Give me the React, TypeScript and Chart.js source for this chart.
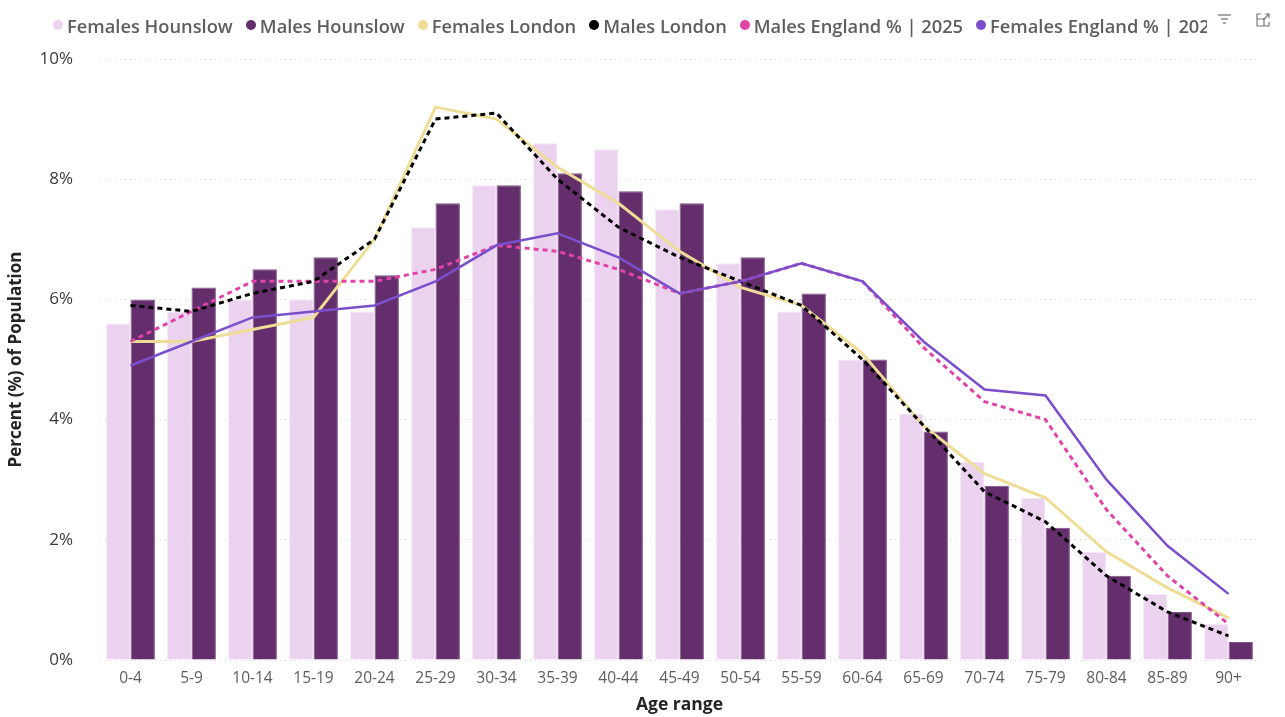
import React, { useEffect, useRef } from "react";
import { Chart, registerables } from "chart.js";

Chart.register(...registerables);

const ageRanges = ["0-4", "5-9", "10-14", "15-19", "20-24", "25-29", "30-34", "35-39", "40-44", "45-49", "50-54", "55-59", "60-64", "65-69", "70-74", "75-79", "80-84", "85-89", "90+"];
const femalesHounslow = [5.6, 5.8, 6.0, 6.0, 5.8, 7.2, 7.9, 8.6, 8.5, 7.5, 6.6, 5.8, 5.0, 4.1, 3.3, 2.7, 1.8, 1.1, 0.6];
const malesHounslow = [6.0, 6.2, 6.5, 6.7, 6.4, 7.6, 7.9, 8.1, 7.8, 7.6, 6.7, 6.1, 5.0, 3.8, 2.9, 2.2, 1.4, 0.8, 0.3];
const femalesLondon = [5.3, 5.3, 5.5, 5.7, 7.0, 9.2, 9.0, 8.2, 7.6, 6.8, 6.2, 5.9, 5.1, 3.9, 3.1, 2.7, 1.8, 1.2, 0.7];
const malesLondon = [5.9, 5.8, 6.1, 6.3, 7.0, 9.0, 9.1, 8.0, 7.2, 6.7, 6.3, 5.9, 5.0, 3.9, 2.8, 2.3, 1.4, 0.8, 0.4];
const malesEngland = [5.3, 5.8, 6.3, 6.3, 6.3, 6.5, 6.9, 6.8, 6.5, 6.1, 6.3, 6.6, 6.3, 5.2, 4.3, 4.0, 2.5, 1.4, 0.6];
const femalesEngland = [4.9, 5.3, 5.7, 5.8, 5.9, 6.3, 6.9, 7.1, 6.7, 6.1, 6.3, 6.6, 6.3, 5.3, 4.5, 4.4, 3.0, 1.9, 1.1];
const yTicks = [0, 2, 4, 6, 8, 10];

const seriesLabels = ["Females Hounslow", "Males Hounslow", "Females London", "Males London", "Males England % | 2025", "Females England % | 2025"];
const seriesColors = ["#EBD2EF", "#642D6B", "#EEDD96", "#000000", "#E044A7", "#7B4FCB"];

const FONT = "'Open Sans', 'Noto Sans', sans-serif";

export default function App() {
  const canvasRef = useRef<HTMLCanvasElement | null>(null);

  useEffect(() => {
    const prevMargin = document.body.style.margin;
    document.body.style.margin = "0";
    const canvas = canvasRef.current;
    if (!canvas) return;
    const chart = new Chart(canvas, {
      type: "bar",
      data: {
        labels: ageRanges,
        datasets: [
          {
            type: "bar",
            label: seriesLabels[0],
            data: femalesHounslow,
            backgroundColor: seriesColors[0],
            borderColor: "#F4E6F6",
            borderWidth: 1,
            categoryPercentage: 0.8,
            barPercentage: 1.0,
            order: 10,
          },
          {
            type: "bar",
            label: seriesLabels[1],
            data: malesHounslow,
            backgroundColor: seriesColors[1],
            borderColor: "#7E5285",
            borderWidth: 1,
            categoryPercentage: 0.8,
            barPercentage: 1.0,
            order: 10,
          },
          {
            type: "line",
            label: seriesLabels[2],
            data: femalesLondon,
            borderColor: seriesColors[2],
            backgroundColor: seriesColors[2],
            borderWidth: 3,
            pointRadius: 0,
            tension: 0,
            order: 4,
          },
          {
            type: "line",
            label: seriesLabels[3],
            data: malesLondon,
            borderColor: seriesColors[3],
            backgroundColor: seriesColors[3],
            borderWidth: 3,
            borderDash: [5, 4],
            pointRadius: 0,
            tension: 0,
            order: 2,
          },
          {
            type: "line",
            label: seriesLabels[4],
            data: malesEngland,
            borderColor: seriesColors[4],
            backgroundColor: seriesColors[4],
            borderWidth: 3,
            borderDash: [5, 4],
            pointRadius: 0,
            tension: 0,
            order: 3,
          },
          {
            type: "line",
            label: seriesLabels[5],
            data: femalesEngland,
            borderColor: seriesColors[5],
            backgroundColor: seriesColors[5],
            borderWidth: 2.5,
            pointRadius: 0,
            tension: 0,
            order: 1,
          },
        ],
      },
      options: {
        animation: false,
        responsive: false,
        maintainAspectRatio: false,
        layout: { padding: { left: 0, right: 26, top: 59, bottom: 0 } },
        plugins: {
          legend: { display: false },
          tooltip: { enabled: false },
        },
        scales: {
          x: {
            grid: { display: false, drawTicks: false },
            border: { display: false },
            ticks: {
              color: "#605E5C",
              font: { family: FONT, size: 15.5 },
              padding: 9,
              maxRotation: 0,
              autoSkip: false,
            },
            title: {
              display: true,
              text: "Age range",
              color: "#252423",
              font: { family: FONT, size: 17.5, weight: "bold" },
              padding: { top: 0, bottom: 1 },
            },
            afterFit: (scale: any) => {
              scale.height = 57;
            },
          },
          y: {
            min: 0,
            max: 10,
            afterBuildTicks: (scale: any) => {
              scale.ticks = yTicks.map((v) => ({ value: v }));
            },
            grid: {
              color: "#D6D6D6",
              lineWidth: 1,
              drawTicks: false,
            },
            border: { display: false, dash: [1, 4] },
            ticks: {
              color: "#3B3A39",
              font: { family: FONT, size: 17 },
              padding: 27,
              callback: (v: any) => `${v}%`,
            },
            title: {
              display: true,
              text: "Percent (%) of Population",
              color: "#252423",
              font: { family: FONT, size: 17, weight: "bold" },
              padding: { top: 6, bottom: 0 },
            },
            afterFit: (scale: any) => {
              scale.width = 100;
            },
          },
        },
      },
    });
    return () => {
      chart.destroy();
      document.body.style.margin = prevMargin;
    };
  }, []);

  return (
    <div style={{ position: "fixed", left: 0, top: 0, width: 1285, height: 717, background: "#fff" }}>
      <canvas ref={canvasRef} width={1285} height={717} style={{ position: "absolute", left: 0, top: 0 }} />
      <div
        style={{
          position: "absolute",
          left: 53,
          top: 10,
          width: 1154,
          height: 30,
          overflow: "hidden",
          whiteSpace: "nowrap",
          display: "flex",
          alignItems: "center",
          fontFamily: FONT,
          fontWeight: 600,
          fontSize: 18.3,
          color: "#605E5C",
        }}
      >
        {seriesLabels.map((label, i) => (
          <span key={label} style={{ display: "inline-flex", alignItems: "center", marginRight: 13, flexShrink: 0 }}>
            <span
              style={{
                display: "inline-block",
                width: 10,
                height: 10,
                borderRadius: 5,
                background: seriesColors[i],
                marginRight: 4,
              }}
            />
            {label}
          </span>
        ))}
      </div>
      <svg width={20} height={20} viewBox="0 0 20 20" style={{ position: "absolute", left: 1215, top: 10 }}>
        <line x1={3} y1={5} x2={16} y2={5} stroke="#777" strokeWidth={1.3} />
        <line x1={6} y1={9} x2={13} y2={9} stroke="#777" strokeWidth={1.3} />
        <line x1={8} y1={13} x2={11} y2={13} stroke="#777" strokeWidth={1.3} />
      </svg>
      <svg width={20} height={20} viewBox="0 0 20 20" style={{ position: "absolute", left: 1253, top: 10 }}>
        <path d="M8 4 H4 V16 H16 V12" fill="none" stroke="#777" strokeWidth={1.2} />
        <path d="M4 9 H11 V16" fill="none" stroke="#777" strokeWidth={1.2} />
        <path d="M10 10 L16 4 M12 4 H16 V8" fill="none" stroke="#777" strokeWidth={1.2} />
      </svg>
    </div>
  );
}
